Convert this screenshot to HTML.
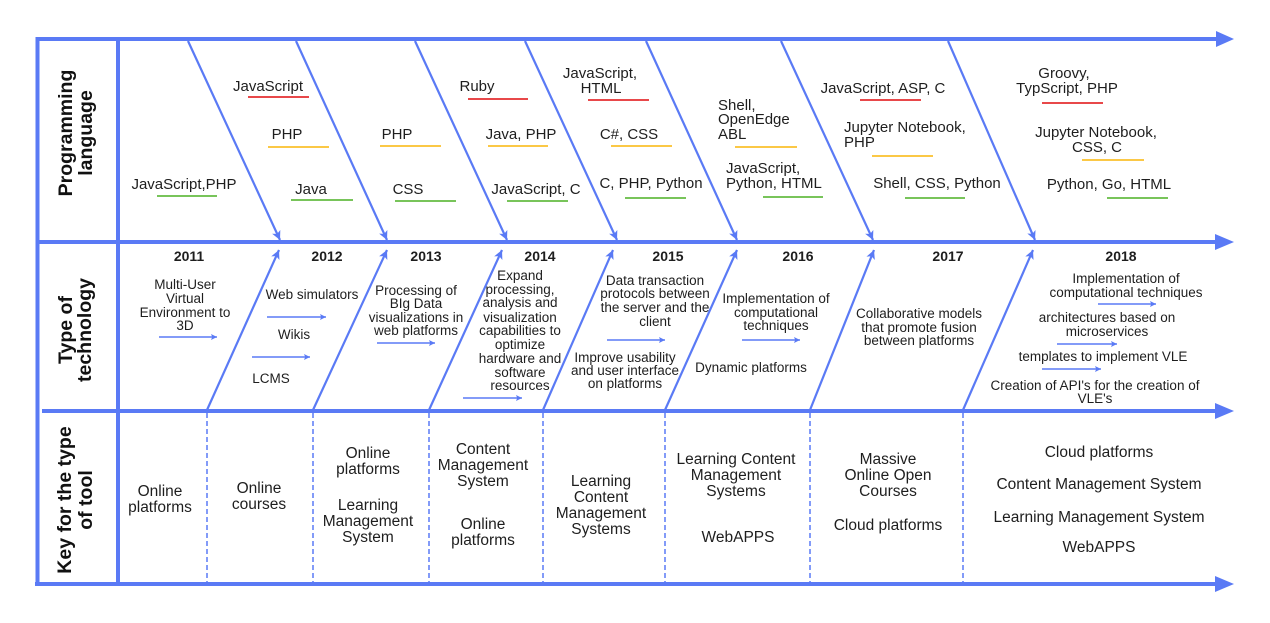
<!DOCTYPE html>
<html><head><meta charset="utf-8"><style>
html,body{margin:0;padding:0;background:#fff;}
svg{display:block;}
text{font-family:"Liberation Sans",Arial,sans-serif;fill:#1e1e1e;}
.t{font-size:15px;}
.m{font-size:13.5px;}
.b{font-size:15.5px;}
.y{font-size:14px;font-weight:bold;}
.l{font-size:19.5px;font-weight:bold;fill:#111;}
.c{text-anchor:middle;}
</style></head><body>
<svg width="1270" height="623" viewBox="0 0 1270 623" xmlns="http://www.w3.org/2000/svg">
<defs>
<marker id="a" viewBox="0 0 10 10" refX="10" refY="5" markerWidth="11" markerHeight="9" markerUnits="userSpaceOnUse" orient="auto"><path d="M0,0 L10,5 L0,10 L2.5,5 z" fill="#5a7af5"/></marker>
<marker id="s" viewBox="0 0 10 10" refX="10" refY="5" markerWidth="7" markerHeight="6" markerUnits="userSpaceOnUse" orient="auto"><path d="M0,0 L10,5 L0,10 L2,5 z" fill="#5a7af5"/></marker>
</defs>
<g stroke="#5a7af5" fill="none">
<!-- main horizontal lines -->
<line x1="36" y1="39" x2="1218" y2="39" stroke-width="4"/>
<line x1="36" y1="242" x2="1218" y2="242" stroke-width="4"/>
<line x1="42" y1="411" x2="1218" y2="411" stroke-width="4"/>
<line x1="35" y1="584" x2="1218" y2="584" stroke-width="4"/>
<!-- left border & divider -->
<line x1="37.5" y1="37" x2="37.5" y2="586" stroke-width="4"/>
<line x1="118" y1="37" x2="118" y2="586" stroke-width="4"/>
<!-- upper diagonals -->
<g stroke-width="2.2" marker-end="url(#a)">
<line x1="188" y1="41" x2="280" y2="240"/>
<line x1="296" y1="41" x2="387" y2="240"/>
<line x1="415" y1="41" x2="507" y2="240"/>
<line x1="525" y1="41" x2="617" y2="240"/>
<line x1="646" y1="41" x2="737" y2="240"/>
<line x1="781" y1="41" x2="873" y2="240"/>
<line x1="948" y1="41" x2="1035" y2="240"/>
</g>
<!-- lower diagonals -->
<g stroke-width="2.2" marker-end="url(#a)">
<line x1="207" y1="410" x2="279" y2="250"/>
<line x1="313" y1="410" x2="387" y2="250"/>
<line x1="429" y1="410" x2="502" y2="250"/>
<line x1="543" y1="410" x2="613" y2="250"/>
<line x1="665" y1="410" x2="737" y2="250"/>
<line x1="810" y1="410" x2="874" y2="250"/>
<line x1="963" y1="410" x2="1033" y2="250"/>
</g>
<!-- dashed separators -->
<g stroke-width="1.5" stroke-dasharray="5,3">
<line x1="207" y1="413" x2="207" y2="582"/>
<line x1="313" y1="413" x2="313" y2="582"/>
<line x1="429" y1="413" x2="429" y2="582"/>
<line x1="543" y1="413" x2="543" y2="582"/>
<line x1="665" y1="413" x2="665" y2="582"/>
<line x1="810" y1="413" x2="810" y2="582"/>
<line x1="963" y1="413" x2="963" y2="582"/>
</g>
<!-- small arrows -->
<g stroke-width="1.6" marker-end="url(#s)">
<line x1="159" y1="337" x2="217" y2="337"/>
<line x1="267" y1="317" x2="326" y2="317"/>
<line x1="252" y1="357" x2="310" y2="357"/>
<line x1="377" y1="343" x2="435" y2="343"/>
<line x1="463" y1="398" x2="522" y2="398"/>
<line x1="607" y1="340" x2="665" y2="340"/>
<line x1="742" y1="340" x2="800" y2="340"/>
<line x1="1098" y1="304" x2="1156" y2="304"/>
<line x1="1057" y1="344" x2="1117" y2="344"/>
<line x1="1042" y1="369" x2="1101" y2="369"/>
</g>
</g>
<!-- big arrowheads -->
<g fill="#5a7af5">
<polygon points="1216,31 1234,39 1216,47"/>
<polygon points="1215,234 1234,242 1215,250"/>
<polygon points="1215,403 1234,411 1215,419"/>
<polygon points="1215,576 1234,584 1215,592"/>
</g>
<!-- underlines -->
<g stroke-width="2">
<g stroke="#e8484a">
<line x1="248" y1="97" x2="309" y2="97"/>
<line x1="468" y1="99" x2="528" y2="99"/>
<line x1="588" y1="100" x2="649" y2="100"/>
<line x1="860" y1="100" x2="921" y2="100"/>
<line x1="1042" y1="103" x2="1103" y2="103"/>
</g>
<g stroke="#fbc846">
<line x1="268" y1="147" x2="329" y2="147"/>
<line x1="380" y1="146" x2="441" y2="146"/>
<line x1="488" y1="146" x2="548" y2="146"/>
<line x1="611" y1="146" x2="672" y2="146"/>
<line x1="735" y1="147" x2="797" y2="147"/>
<line x1="872" y1="156" x2="933" y2="156"/>
<line x1="1082" y1="160" x2="1144" y2="160"/>
</g>
<g stroke="#78c45a">
<line x1="157" y1="196" x2="217" y2="196"/>
<line x1="291" y1="200" x2="353" y2="200"/>
<line x1="395" y1="201" x2="456" y2="201"/>
<line x1="507" y1="201" x2="568" y2="201"/>
<line x1="625" y1="198" x2="686" y2="198"/>
<line x1="763" y1="197" x2="823" y2="197"/>
<line x1="905" y1="198" x2="965" y2="198"/>
<line x1="1107" y1="198" x2="1168" y2="198"/>
</g>
</g>

<!-- left labels -->
<text class="l c" transform="translate(72,133) rotate(-90)">Programming</text>
<text class="l c" transform="translate(92,133) rotate(-90)">language</text>
<text class="l c" transform="translate(72,330) rotate(-90)">Type of</text>
<text class="l c" transform="translate(91,330) rotate(-90)">technology</text>
<text class="l c" transform="translate(71,500) rotate(-90)">Key for the type</text>
<text class="l c" transform="translate(92,500) rotate(-90)">of tool</text>

<!-- top row -->
<g class="t">
<text class="c" x="268" y="91">JavaScript</text>
<text class="c" x="287" y="139">PHP</text>
<text class="c" x="184" y="189">JavaScript,PHP</text>
<text class="c" x="311" y="194">Java</text>
<text class="c" x="397" y="139">PHP</text>
<text class="c" x="408" y="194">CSS</text>
<text class="c" x="477" y="91">Ruby</text>
<text class="c" x="521" y="139">Java, PHP</text>
<text class="c" x="536" y="194">JavaScript, C</text>
<text class="c" x="600" y="78">JavaScript,</text>
<text class="c" x="601" y="93">HTML</text>
<text class="c" x="629" y="139">C#, CSS</text>
<text class="c" x="651" y="188">C, PHP, Python</text>
<text x="718" y="110">Shell,</text>
<text x="718" y="124">OpenEdge</text>
<text x="718" y="139">ABL</text>
<text x="726" y="173">JavaScript,</text>
<text x="726" y="188">Python, HTML</text>
<text class="c" x="883" y="93">JavaScript, ASP, C</text>
<text x="844" y="132">Jupyter Notebook,</text>
<text x="844" y="147">PHP</text>
<text class="c" x="937" y="188">Shell, CSS, Python</text>
<text class="c" x="1064" y="78">Groovy,</text>
<text class="c" x="1067" y="93">TypScript, PHP</text>
<text class="c" x="1096" y="137">Jupyter Notebook,</text>
<text class="c" x="1097" y="152">CSS, C</text>
<text class="c" x="1109" y="189">Python, Go, HTML</text>
</g>

<!-- years -->
<g class="y">
<text class="c" x="189" y="261">2011</text>
<text class="c" x="327" y="261">2012</text>
<text class="c" x="426" y="261">2013</text>
<text class="c" x="540" y="261">2014</text>
<text class="c" x="668" y="261">2015</text>
<text class="c" x="798" y="261">2016</text>
<text class="c" x="948" y="261">2017</text>
<text class="c" x="1121" y="261">2018</text>
</g>

<!-- middle row -->
<g class="m">
<text class="c" x="185" y="289">Multi-User</text>
<text class="c" x="185" y="303">Virtual</text>
<text class="c" x="185" y="317">Environment to</text>
<text class="c" x="185" y="330">3D</text>
<text class="c" x="312" y="299">Web simulators</text>
<text class="c" x="294" y="339">Wikis</text>
<text class="c" x="271" y="383">LCMS</text>
<text class="c" x="416" y="295">Processing of</text>
<text class="c" x="416" y="308">BIg Data</text>
<text class="c" x="416" y="322">visualizations in</text>
<text class="c" x="416" y="335">web platforms</text>
<text class="c" x="520" y="280">Expand</text>
<text class="c" x="520" y="294">processing,</text>
<text class="c" x="520" y="307">analysis and</text>
<text class="c" x="520" y="322">visualization</text>
<text class="c" x="520" y="335">capabilities to</text>
<text class="c" x="520" y="349">optimize</text>
<text class="c" x="520" y="363">hardware and</text>
<text class="c" x="520" y="377">software</text>
<text class="c" x="520" y="390">resources</text>
<text class="c" x="655" y="285">Data transaction</text>
<text class="c" x="655" y="298">protocols between</text>
<text class="c" x="655" y="312">the server and the</text>
<text class="c" x="655" y="326">client</text>
<text class="c" x="625" y="362">Improve usability</text>
<text class="c" x="625" y="375">and user interface</text>
<text class="c" x="625" y="388">on platforms</text>
<text class="c" x="776" y="303">Implementation of</text>
<text class="c" x="776" y="317">computational</text>
<text class="c" x="776" y="330">techniques</text>
<text class="c" x="751" y="372">Dynamic platforms</text>
<text class="c" x="919" y="318">Collaborative models</text>
<text class="c" x="919" y="332">that promote fusion</text>
<text class="c" x="919" y="345">between platforms</text>
<text class="c" x="1126" y="283">Implementation of</text>
<text class="c" x="1126" y="297">computational techniques</text>
<text class="c" x="1107" y="322">architectures based on</text>
<text class="c" x="1107" y="336">microservices</text>
<text class="c" x="1103" y="361">templates to implement VLE</text>
<text class="c" x="1095" y="390">Creation of API's for the creation of</text>
<text class="c" x="1095" y="403">VLE's</text>
</g>

<!-- bottom row -->
<g class="b">
<text class="c" x="160" y="496">Online</text>
<text class="c" x="160" y="512">platforms</text>
<text class="c" x="259" y="493">Online</text>
<text class="c" x="259" y="509">courses</text>
<text class="c" x="368" y="458">Online</text>
<text class="c" x="368" y="474">platforms</text>
<text class="c" x="368" y="510">Learning</text>
<text class="c" x="368" y="526">Management</text>
<text class="c" x="368" y="542">System</text>
<text class="c" x="483" y="454">Content</text>
<text class="c" x="483" y="470">Management</text>
<text class="c" x="483" y="486">System</text>
<text class="c" x="483" y="529">Online</text>
<text class="c" x="483" y="545">platforms</text>
<text class="c" x="601" y="486">Learning</text>
<text class="c" x="601" y="502">Content</text>
<text class="c" x="601" y="518">Management</text>
<text class="c" x="601" y="534">Systems</text>
<text class="c" x="736" y="464">Learning Content</text>
<text class="c" x="736" y="480">Management</text>
<text class="c" x="736" y="496">Systems</text>
<text class="c" x="738" y="542">WebAPPS</text>
<text class="c" x="888" y="464">Massive</text>
<text class="c" x="888" y="480">Online Open</text>
<text class="c" x="888" y="496">Courses</text>
<text class="c" x="888" y="530">Cloud platforms</text>
<text class="c" x="1099" y="457">Cloud platforms</text>
<text class="c" x="1099" y="489">Content Management System</text>
<text class="c" x="1099" y="522">Learning Management System</text>
<text class="c" x="1099" y="552">WebAPPS</text>
</g>
</svg>
</body></html>
